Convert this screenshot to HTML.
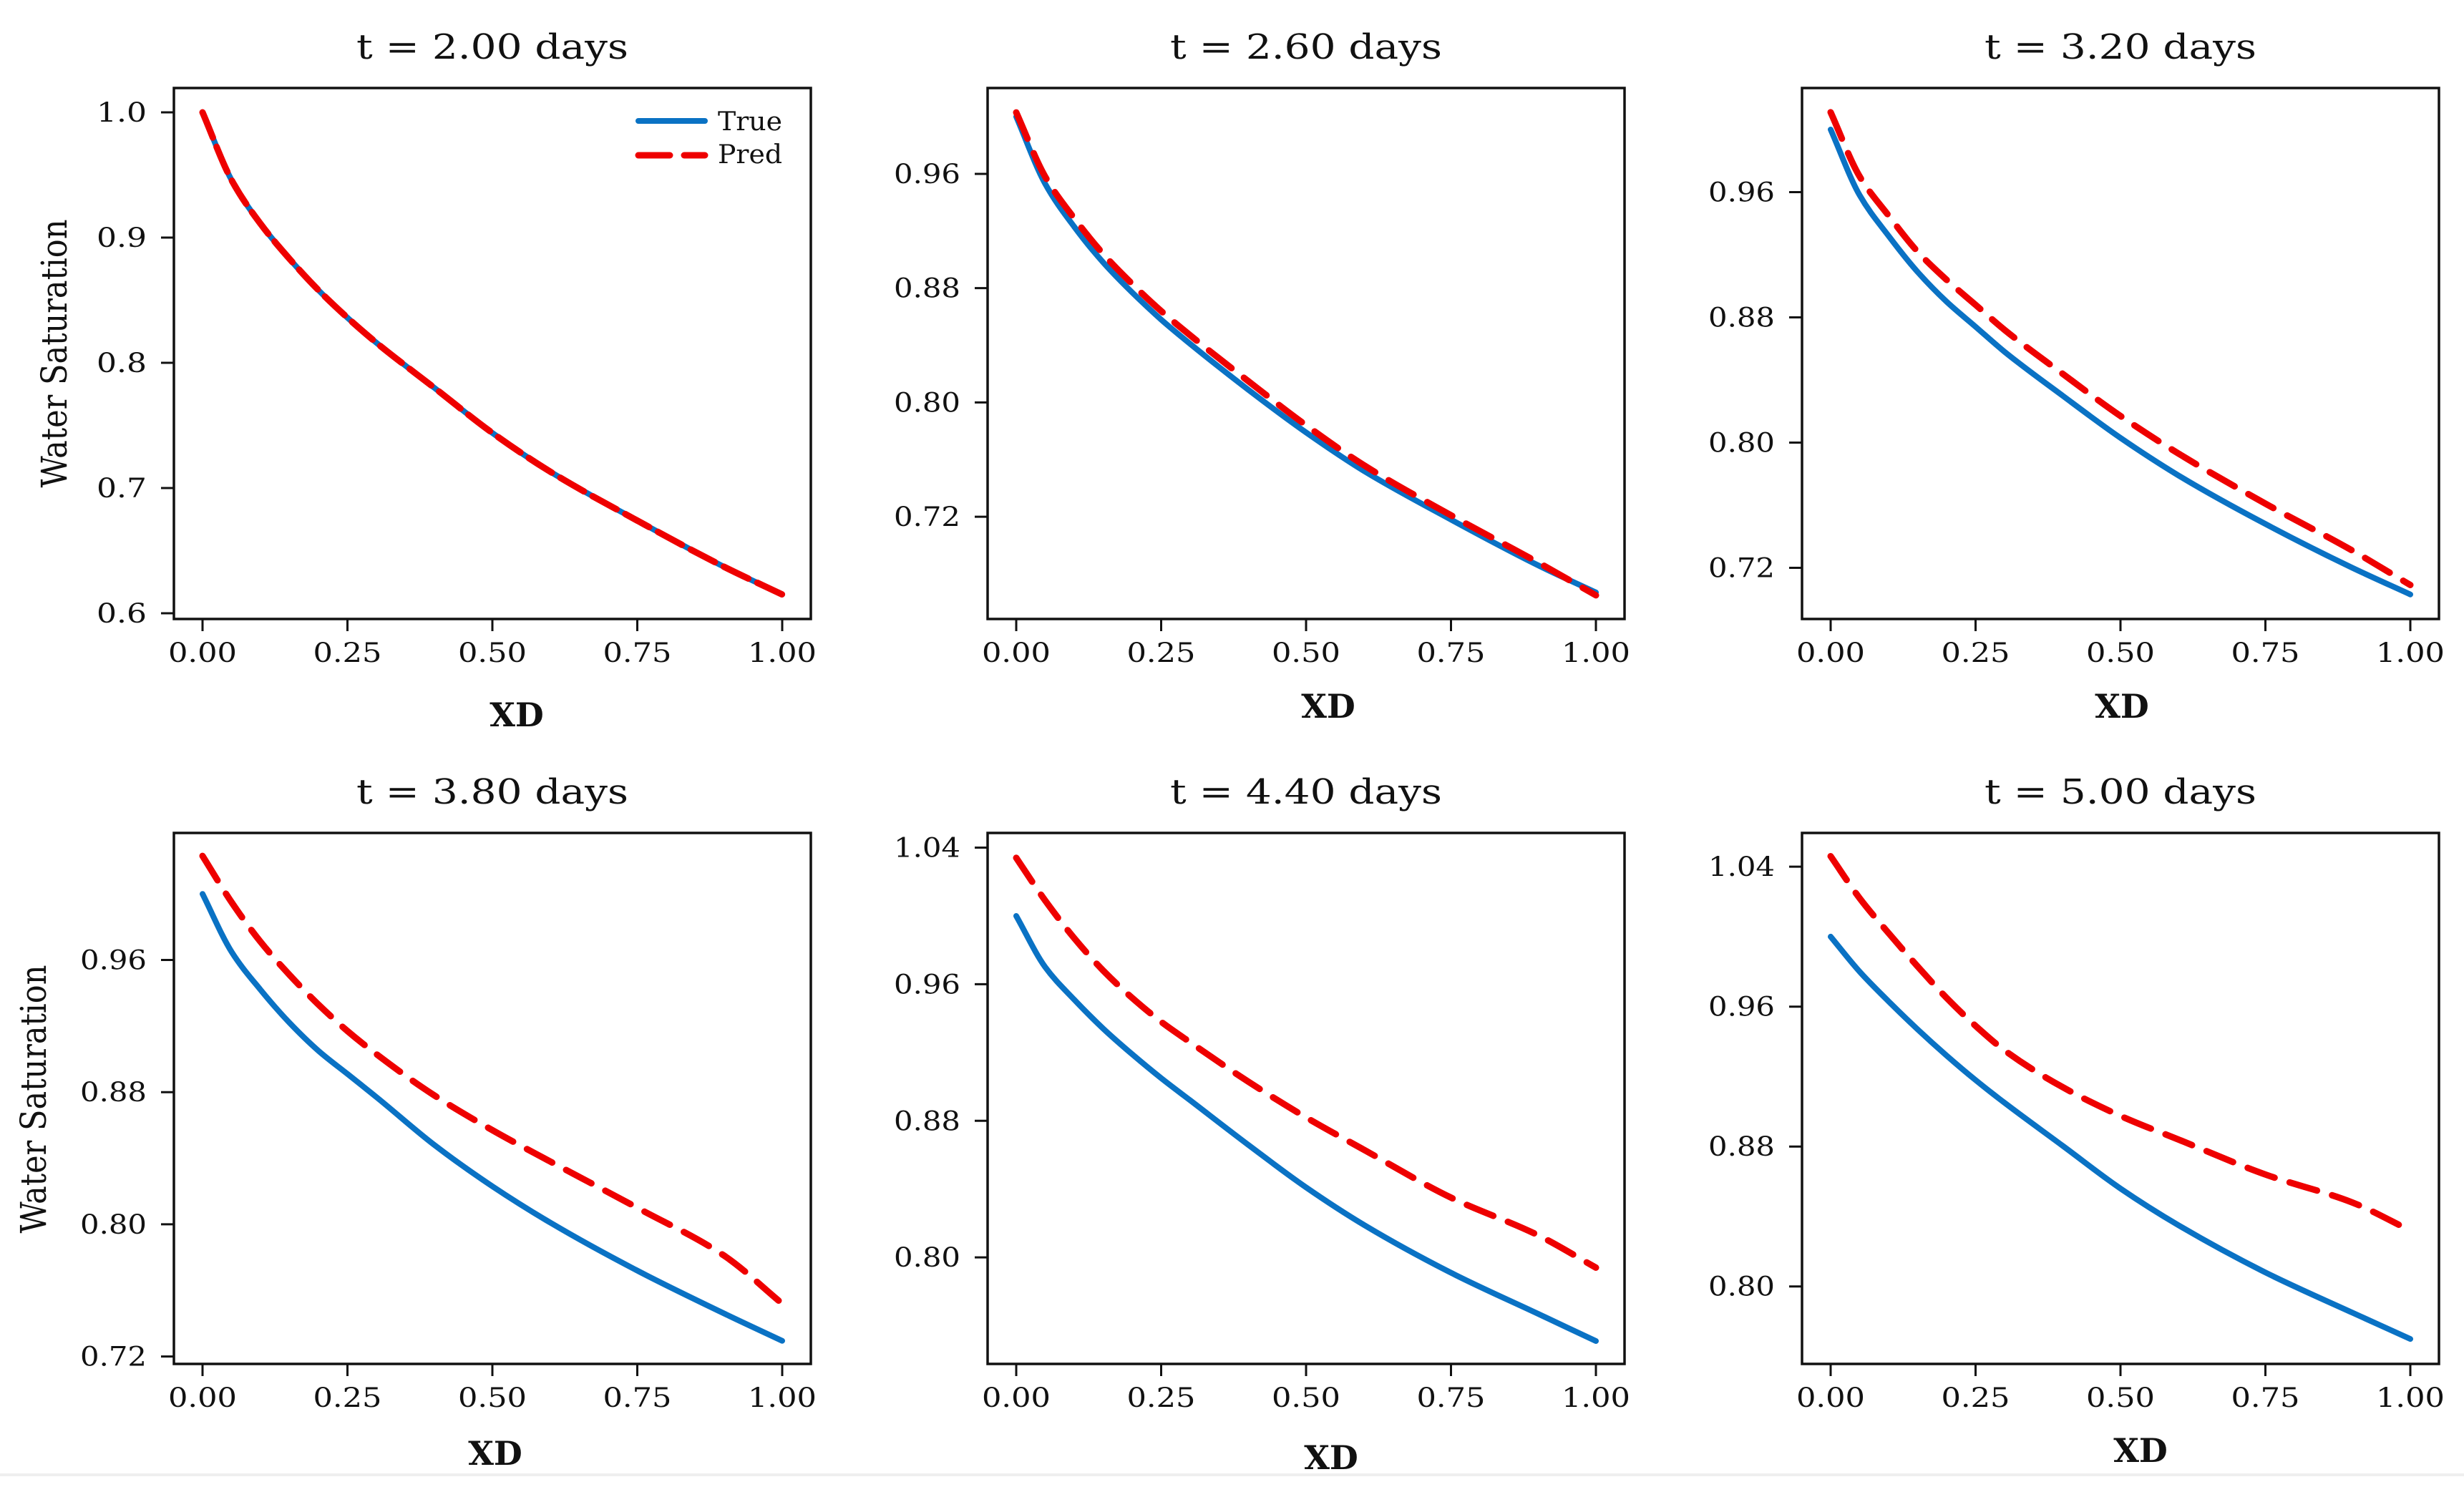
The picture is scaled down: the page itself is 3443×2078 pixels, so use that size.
<!DOCTYPE html>
<html><head><meta charset="utf-8"><title>Water Saturation</title>
<style>
html,body{margin:0;padding:0;background:#fff;}
svg{display:block;}
text{font-family:"DejaVu Serif","Liberation Serif",serif;fill:#111;}
</style></head>
<body>
<svg id="fig" width="3443" height="2078" viewBox="0 0 3443 2078" xmlns="http://www.w3.org/2000/svg">
<rect x="0" y="0" width="3443" height="2078" fill="#fff"/>
<rect x="0" y="2059" width="3443" height="4" fill="#efefef"/>
</svg>
<script>
// x grid shared by all curves
const xGrid = [0, 0.05, 0.1, 0.15, 0.2, 0.25, 0.3, 0.4, 0.5, 0.6, 0.75, 0.9, 1.0];
const xTicks = [0, 0.25, 0.5, 0.75, 1.0];
const xTickLabels = ["0.00", "0.25", "0.50", "0.75", "1.00"];
const titles = ["t = 2.00 days", "t = 2.60 days", "t = 3.20 days", "t = 3.80 days", "t = 4.40 days", "t = 5.00 days"];

const true1 = [1.000, 0.946, 0.911, 0.883, 0.858, 0.836, 0.816, 0.780, 0.744, 0.713, 0.674, 0.637, 0.615];
const pred1 = [1.000, 0.946, 0.911, 0.883, 0.858, 0.836, 0.816, 0.780, 0.744, 0.713, 0.674, 0.637, 0.615];
const true2 = [1.000, 0.953, 0.923, 0.898, 0.877, 0.858, 0.841, 0.809, 0.779, 0.752, 0.718, 0.686, 0.667];
const pred2 = [1.003, 0.958, 0.929, 0.904, 0.883, 0.864, 0.847, 0.815, 0.784, 0.756, 0.721, 0.688, 0.665];
const true3 = [1.000, 0.958, 0.932, 0.909, 0.890, 0.874, 0.858, 0.830, 0.803, 0.779, 0.748, 0.720, 0.703];
const pred3 = [1.011, 0.970, 0.945, 0.922, 0.904, 0.888, 0.872, 0.844, 0.817, 0.793, 0.761, 0.731, 0.709];
const true4 = [1.000, 0.965, 0.942, 0.922, 0.905, 0.891, 0.877, 0.848, 0.823, 0.801, 0.772, 0.746, 0.7295];
const pred4 = [1.023, 0.995, 0.971, 0.951, 0.933, 0.917, 0.903, 0.878, 0.857, 0.838, 0.810, 0.781, 0.752];
const true5 = [1.000, 0.970, 0.951, 0.934, 0.919, 0.905, 0.892, 0.866, 0.841, 0.819, 0.791, 0.767, 0.751];
const pred5 = [1.034, 1.009, 0.987, 0.968, 0.952, 0.938, 0.926, 0.903, 0.882, 0.863, 0.835, 0.813, 0.794];
const true6 = [1.000, 0.980, 0.963, 0.947, 0.932, 0.918, 0.905, 0.8805, 0.856, 0.835, 0.808, 0.785, 0.770];
const pred6 = [1.046, 1.022, 1.002, 0.983, 0.965, 0.949, 0.935, 0.914, 0.8975, 0.884, 0.864, 0.848, 0.832];

const yLims = [[0.5954, 1.0194], [0.6484, 1.0201], [0.6873, 1.0265], [0.7155, 1.0369], [0.7376, 1.0486], [0.7557, 1.0593]];
const yTicks1 = [0.6, 0.7, 0.8, 0.9, 1.0];
const yTickLabels1 = ["0.6", "0.7", "0.8", "0.9", "1.0"];
const yTicksA = [0.72, 0.80, 0.88, 0.96];
const yTickLabelsA = ["0.72", "0.80", "0.88", "0.96"];
const yTicksB = [0.80, 0.88, 0.96, 1.04];
const yTickLabelsB = ["0.80", "0.88", "0.96", "1.04"];

const trueSeries = [true1, true2, true3, true4, true5, true6];
const predSeries = [pred1, pred2, pred3, pred4, pred5, pred6];
const tickSets = [[yTicks1, yTickLabels1], [yTicksA, yTickLabelsA], [yTicksA, yTickLabelsA], [yTicksA, yTickLabelsA], [yTicksB, yTickLabelsB], [yTicksB, yTickLabelsB]];

const NS = "http://www.w3.org/2000/svg";
const svg = document.getElementById("fig");
const lefts = [243, 1380, 2518];
const tops = [123, 1164];
const W = 890, H = 742;
const xlabelBase = [1015, 1003, 1003, 2047, 2053, 2043];
const xlabelCx = [722, 1856, 2965, 692, 1860, 2991];

function mk(tag, attrs, parent) {
  const e = document.createElementNS(NS, tag);
  for (const k in attrs) e.setAttribute(k, attrs[k]);
  (parent || svg).appendChild(e);
  return e;
}
// monotone cubic (Fritsch-Carlson) through pixel points
function smoothPath(pts) {
  const n = pts.length;
  const dx = [], sl = [];
  for (let i = 0; i < n - 1; i++) {
    dx.push(pts[i + 1][0] - pts[i][0]);
    sl.push((pts[i + 1][1] - pts[i][1]) / dx[i]);
  }
  const m = [sl[0]];
  for (let i = 1; i < n - 1; i++) {
    if (sl[i - 1] * sl[i] <= 0) m.push(0);
    else {
      const w1 = 2 * dx[i] + dx[i - 1], w2 = dx[i] + 2 * dx[i - 1];
      m.push((w1 + w2) / (w1 / sl[i - 1] + w2 / sl[i]));
    }
  }
  m.push(sl[n - 2]);
  let d = "M" + pts[0][0].toFixed(1) + "," + pts[0][1].toFixed(1);
  for (let i = 0; i < n - 1; i++) {
    const h = dx[i] / 3;
    d += " C" + (pts[i][0] + h).toFixed(1) + "," + (pts[i][1] + m[i] * h).toFixed(1) + " " +
      (pts[i + 1][0] - h).toFixed(1) + "," + (pts[i + 1][1] - m[i + 1] * h).toFixed(1) + " " +
      pts[i + 1][0].toFixed(1) + "," + pts[i + 1][1].toFixed(1);
  }
  return d;
}

for (let p = 0; p < 6; p++) {
  const L = lefts[p % 3], T = tops[Math.floor(p / 3)];
  const g = mk("g", {});
  
  
  const xs = v => L + 40 + v * 810;
  const [y0, y1] = yLims[p];
  const ys = v => T + H - (v - y0) / (y1 - y0) * H;

  const title = mk("text", {x: L + W / 2, y: T - 41, "text-anchor": "middle", "font-size": 48, textLength: 380, lengthAdjust: "spacingAndGlyphs"}, g);
  title.textContent = titles[p];
  
  

  xTicks.forEach((v, i) => {
    const tk = mk("line", {x1: xs(v), x2: xs(v), y1: T + H, y2: T + H + 17, stroke: "#111", "stroke-width": 3}, g);
    
    
    const t = mk("text", {x: xs(v), y: T + H + 60, "text-anchor": "middle", "font-size": 37, textLength: 96, lengthAdjust: "spacingAndGlyphs"}, g);
    t.textContent = xTickLabels[i];
    
    
  });
  const [yt, ytl] = tickSets[p];
  yt.forEach((v, i) => {
    const tk = mk("line", {x1: L - 18, x2: L, y1: ys(v), y2: ys(v), stroke: "#111", "stroke-width": 3}, g);
    
    
    const t = mk("text", {x: L - 38, y: ys(v) + 13, "text-anchor": "end", "font-size": 37, textLength: ytl[i].length === 3 ? 70 : 93, lengthAdjust: "spacingAndGlyphs"}, g);
    t.textContent = ytl[i];
    
    
  });

  const tp = mk("path", {d: smoothPath(xGrid.map((x, i) => [xs(x), ys(trueSeries[p][i])])), fill: "none", stroke: "#0a72c4", "stroke-width": 8, "stroke-linecap": "round", "stroke-linejoin": "round"}, g);
  
  
  const pp = mk("path", {d: smoothPath(xGrid.map((x, i) => [xs(x), ys(predSeries[p][i])])), fill: "none", stroke: "#ee0000", "stroke-width": 9, "stroke-linecap": "round", "stroke-linejoin": "round", "stroke-dasharray": p === 0 ? "38 14" : "40 22"}, g);
  
  

  const fr = mk("rect", {x: L, y: T, width: W, height: H, fill: "none", stroke: "#111", "stroke-width": 3.5}, g);
  
  

  const xl = mk("text", {x: xlabelCx[p], y: xlabelBase[p], "text-anchor": "middle", "font-size": 46, "font-weight": "bold", "font-family": "Liberation Serif, serif"}, g);
  xl.textContent = "XD";
  
  
}

[[77, 494], [48, 1536]].forEach(([cx, cy]) => {
  const t = mk("text", {x: 0, y: 0, transform: "translate(" + (cx + 16) + "," + cy + ") rotate(-90)", "text-anchor": "middle", "font-size": 50, textLength: 375, lengthAdjust: "spacingAndGlyphs", "font-family": "Liberation Serif, serif"});
  t.textContent = "Water Saturation";
  
  
});

const lg = mk("g", {});


const l1 = mk("line", {x1: 892, x2: 985, y1: 169, y2: 169, stroke: "#0a72c4", "stroke-width": 8, "stroke-linecap": "round"}, lg);


const l2 = mk("line", {x1: 892, x2: 985, y1: 217, y2: 217, stroke: "#ee0000", "stroke-width": 9, "stroke-linecap": "round", "stroke-dasharray": "44 20"}, lg);


const t1 = mk("text", {x: 1003, y: 182, "font-size": 36, textLength: 90, lengthAdjust: "spacingAndGlyphs"}, lg);
t1.textContent = "True";


const t2 = mk("text", {x: 1003, y: 228, "font-size": 36, textLength: 90, lengthAdjust: "spacingAndGlyphs"}, lg);
t2.textContent = "Pred";


</script>
</body></html>
